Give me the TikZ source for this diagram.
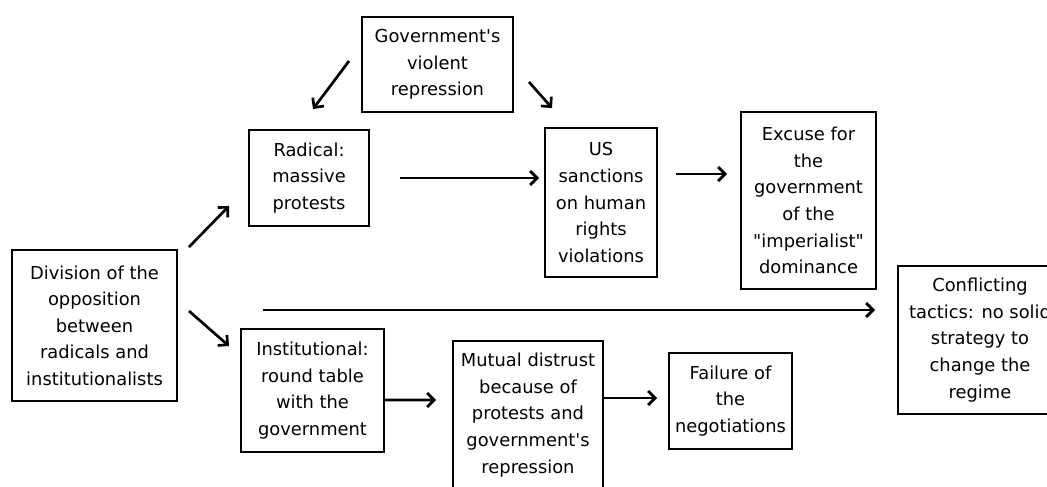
\documentclass[tikz,border=0pt]{standalone}
\usepackage{fontspec}
\setmainfont{DejaVu Sans}
\usetikzlibrary{arrows.meta}
\newcommand{\ap}{\textquotesingle}
\newcommand{\dq}{\textquotedbl}
\begin{document}
\begin{tikzpicture}[x=0.025cm,y=-0.025cm,
  box/.style={draw=black,line width=1.4pt,align=center,inner sep=0pt,
    font=\fontsize{12.7}{18.9}\selectfont},
  arr/.style={line width=1.9pt,-{Straight Barb[length=5pt,width=10pt,line width=1.9pt]}}]
\useasboundingbox (0,0) rectangle (1047,487);
\clip (0,0) rectangle (1047,487);
\fill[white] (0,0) rectangle (1047,487);
\node[box,minimum width=151*0.025cm,minimum height=95*0.025cm] (gov) at (437.5,64.5) {Government\ap s\\violent\\repression};
\node[box,minimum width=120*0.025cm,minimum height=96*0.025cm] (rad) at (309,178) {Radical:\\massive\\protests};
\node[box,minimum width=165*0.025cm,minimum height=151*0.025cm] (div) at (94.5,325.5) {Division of the\\opposition\\between\\radicals and\\institutionalists};
\node[box,minimum width=143*0.025cm,minimum height=123*0.025cm] (inst) at (312.5,390.5) {Institutional:\\round table\\with the\\government};
\node[box,minimum width=150*0.025cm,minimum height=148*0.025cm] (mut) at (528,415) {Mutual distrust\\because of\\protests and\\government\ap s\\repression};
\node[box,minimum width=112*0.025cm,minimum height=149*0.025cm] (us) at (601,202.5) {US\\sanctions\\on human\\rights\\violations};
\node[box,minimum width=135*0.025cm,minimum height=177*0.025cm] (exc) at (808.5,200.5) {Excuse for\\the\\government\\of the\\\dq imperialist\dq\\dominance};
\node[box,minimum width=164*0.025cm,minimum height=148*0.025cm] (con) at (980,340) {Conflicting\\tactics: no solid\\strategy to\\change the\\regime};
\node[box,minimum width=123*0.025cm,minimum height=96*0.025cm] (fail) at (730.5,401) {Failure of\\the\\negotiations};
\draw[arr] ([shift={(-12,-3.5)}]gov.west) -- ([shift={(4,-20)}]rad.north);
\draw[arr] ([shift={(15,17.5)}]gov.east) -- ([shift={(8,-19)}]us.north west);
\draw[arr] ([shift={(11,-2)}]div.north east) -- ([shift={(-19,-21)}]rad.south west);
\draw[arr] ([shift={(11,-14.5)}]div.east) -- ([shift={(-11,18)}]inst.north west);
\draw[arr] ([shift={(30,0)}]rad.east) -- ([shift={(-5,-24.5)}]us.west);
\draw[arr] ([shift={(18,-28.5)}]us.east) -- ([shift={(-13,-26.5)}]exc.west);
\draw[arr] ([shift={(85,-15.5)}]div.east) -- ([shift={(-22,-30)}]con.west);
\draw[arr] ([shift={(0,9.5)}]inst.east) -- ([shift={(-16,-15)}]mut.west);
\draw[arr] ([shift={(0,-17)}]mut.east) -- ([shift={(-11,-3)}]fail.west);
\end{tikzpicture}
\end{document}
